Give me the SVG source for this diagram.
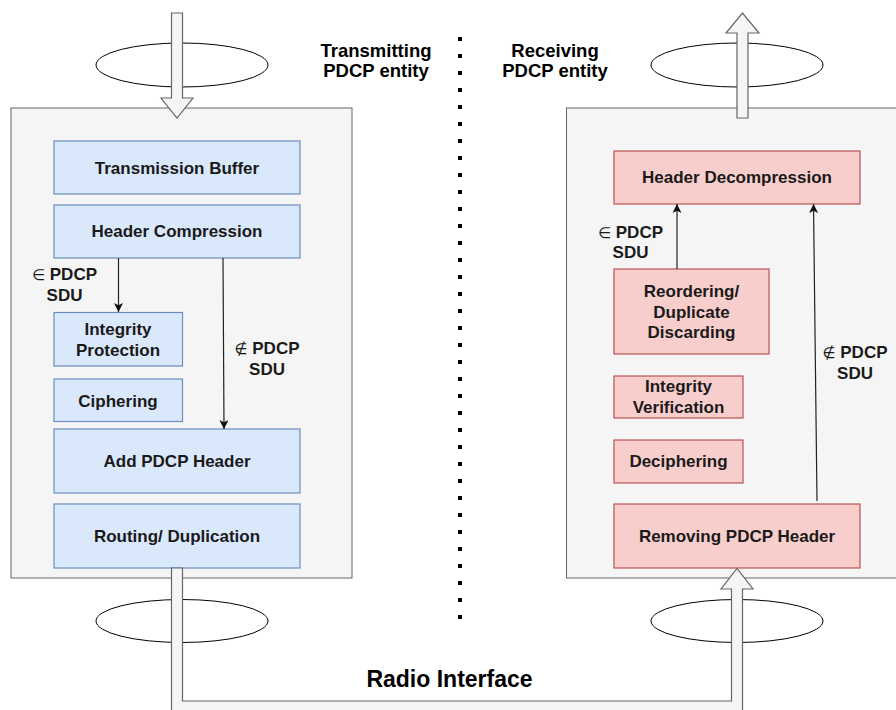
<svg xmlns="http://www.w3.org/2000/svg" width="896" height="710" viewBox="0 0 896 710">
<defs>
<style>
.cont{fill:#f5f5f5;stroke:#666666;stroke-width:1}
.blue{fill:#dae8fc;stroke:#6c8ebf;stroke-width:1.2}
.red{fill:#f8cecc;stroke:#b85450;stroke-width:1.2}
.ell{fill:#ffffff;stroke:#000000;stroke-width:1}
.flow{fill:#f5f5f5;stroke:#666666;stroke-width:1.2;stroke-linejoin:miter}
.t{font-family:"Liberation Sans",Arial,sans-serif;font-weight:bold;font-size:17px;fill:#1a1a1a;text-anchor:middle}
.title{font-size:18.5px;fill:#000}
.sym{font-weight:normal;font-family:"DejaVu Sans",sans-serif;font-size:15px}
.conn{stroke:#222222;stroke-width:1.2;fill:none}
</style>
<marker id="ah" viewBox="0 0 10 10" refX="10" refY="5" markerWidth="9" markerHeight="9" markerUnits="userSpaceOnUse" orient="auto">
<path d="M0,0 L10,5 L0,10 L2.5,5 Z" fill="#111"/>
</marker>
</defs>
<rect width="896" height="710" fill="#ffffff"/>

<g id="tx-entity">
<rect class="cont" x="11" y="108" width="341" height="470"/>
</g>
<g id="rx-entity">
<rect class="cont" x="566.5" y="108" width="340" height="470"/>
</g>

<g id="ellipses">
<ellipse class="ell" cx="182" cy="65" rx="86" ry="22"/>
<ellipse class="ell" cx="737" cy="65" rx="86" ry="22"/>
<ellipse class="ell" cx="182" cy="621" rx="86" ry="21.5"/>
<ellipse class="ell" cx="737" cy="621" rx="86" ry="21.5"/>
</g>

<g id="divider">
<line x1="460" y1="37" x2="460" y2="625" stroke="#000" stroke-width="4" stroke-dasharray="4 13"/>
</g>

<g id="titles">
<text class="t title" x="376" y="57">Transmitting</text>
<text class="t title" x="376" y="77">PDCP entity</text>
<text class="t title" x="555" y="57">Receiving</text>
<text class="t title" x="555" y="77">PDCP entity</text>
<text class="t" x="449.5" y="687" style="font-size:23px;fill:#000">Radio Interface</text>
</g>

<g id="n-transmission-buffer"><rect class="blue" x="54" y="141" width="246" height="53"/><text class="t" x="177" y="173.5">Transmission Buffer</text></g>
<g id="n-header-compression"><rect class="blue" x="54" y="205" width="246" height="53"/><text class="t" x="177" y="237">Header Compression</text></g>
<g id="n-integrity-protection"><rect class="blue" x="54" y="312.5" width="128.5" height="53.5"/><text class="t" x="118" y="335">Integrity</text><text class="t" x="118" y="356">Protection</text></g>
<g id="n-ciphering"><rect class="blue" x="54" y="379" width="128.5" height="42.5"/><text class="t" x="118" y="407">Ciphering</text></g>
<g id="n-add-header"><rect class="blue" x="54" y="429" width="246" height="64"/><text class="t" x="177" y="467">Add PDCP Header</text></g>
<g id="n-routing"><rect class="blue" x="54" y="504" width="246" height="64"/><text class="t" x="177" y="542">Routing/ Duplication</text></g>

<g id="n-header-decompression"><rect class="red" x="614" y="151" width="246" height="53"/><text class="t" x="737" y="183">Header Decompression</text></g>
<g id="n-reordering"><rect class="red" x="614" y="269" width="155" height="85"/><text class="t" x="691.5" y="297">Reordering/</text><text class="t" x="691.5" y="317.5">Duplicate</text><text class="t" x="691.5" y="338">Discarding</text></g>
<g id="n-integrity-verification"><rect class="red" x="614" y="376" width="129" height="42"/><text class="t" x="678.5" y="392">Integrity</text><text class="t" x="678.5" y="413">Verification</text></g>
<g id="n-deciphering"><rect class="red" x="614" y="440" width="129" height="43"/><text class="t" x="678.5" y="467">Deciphering</text></g>
<g id="n-removing-header"><rect class="red" x="614" y="504" width="246" height="64"/><text class="t" x="737" y="542">Removing PDCP Header</text></g>

<g id="connectors">
<line class="conn" x1="118.5" y1="258" x2="118.5" y2="312" marker-end="url(#ah)"/>
<line class="conn" x1="223" y1="258" x2="224" y2="429" marker-end="url(#ah)"/>
<line class="conn" x1="677" y1="269" x2="677" y2="204" marker-end="url(#ah)"/>
<line class="conn" x1="817" y1="501" x2="813.5" y2="204" marker-end="url(#ah)"/>
<path class="flow" d="M171.5,13 L182.5,13 L182.5,98 L193,98 L177,118 L161,98 L171.5,98 Z"/>
<path class="flow" d="M737,118 L748,118 L748,33 L759,33 L742.5,13 L726,33 L737,33 Z"/>
<path class="flow" d="M171.5,568 L171.5,712 L742.5,712 L742.5,589 L753,589 L737,568.5 L721,589 L731.5,589 L731.5,701 L182.5,701 L182.5,568 Z"/>
</g>

<g id="labels">
<text class="t" x="64.5" y="280"><tspan class="sym">∈</tspan> PDCP</text>
<text class="t" x="64.5" y="301">SDU</text>
<text class="t" x="267" y="354"><tspan class="sym">∉</tspan> PDCP</text>
<text class="t" x="267" y="375">SDU</text>
<text class="t" x="630.5" y="238"><tspan class="sym">∈</tspan> PDCP</text>
<text class="t" x="630.5" y="258">SDU</text>
<text class="t" x="855" y="358"><tspan class="sym">∉</tspan> PDCP</text>
<text class="t" x="855" y="379">SDU</text>
</g>
</svg>
